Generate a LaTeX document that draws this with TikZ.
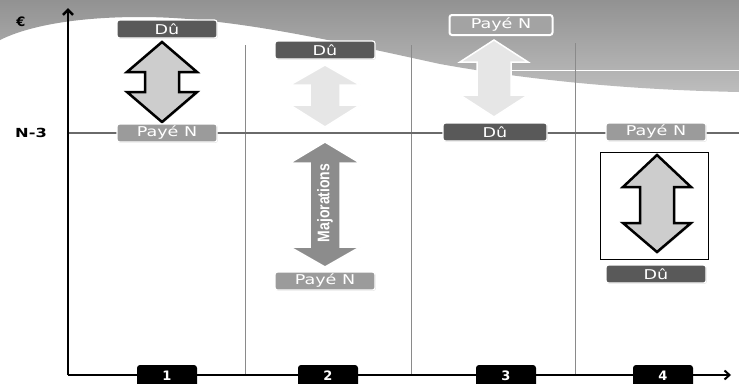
\documentclass[tikz,border=0pt]{standalone}
\usepackage{fontspec}
\setmainfont{DejaVu Sans}
\newfontfamily\majfont{Liberation Sans}
\usetikzlibrary{arrows.meta,shadows}
\definecolor{wavetop}{HTML}{929292}
\definecolor{wavebot}{HTML}{BDBDBD}
\definecolor{dk}{HTML}{595959}
\definecolor{md}{HTML}{9B9B9B}
\definecolor{tp}{HTML}{A3A3A3}
\definecolor{gridc}{HTML}{8A8A8A}
\definecolor{nline}{HTML}{6A6A6A}
\definecolor{arrfill}{HTML}{CDCDCD}
\definecolor{lightarr}{HTML}{E6E6E6}
\definecolor{majarr}{HTML}{8C8C8C}
\newcommand{\wtxt}[1]{\scalebox{1.3}[1]{#1}}
% #1 style, #2 cx, #3 top tip, #4 top head base, #5 bottom head base, #6 bottom tip, #7 half head, #8 half shaft
\newcommand{\dblarr}[8]{%
  \path[#1] (#2,#3) -- ({#2-#7},#4) -- ({#2-#8},#4) -- ({#2-#8},#5) -- ({#2-#7},#5)
    -- (#2,#6) -- ({#2+#7},#5) -- ({#2+#8},#5) -- ({#2+#8},#4) -- ({#2+#7},#4) -- cycle;}
\begin{document}
\begin{tikzpicture}[x=1pt,y=-1pt,
  lab/.style={rounded corners=2.5pt, draw=white, line width=1.2pt, minimum width=100pt,
    minimum height=18pt, inner sep=0pt, text=white, font=\fontsize{13.5}{15}\selectfont,
    drop shadow={opacity=0.25,shadow xshift=0.8pt,shadow yshift=-0.8pt}},
  darklab/.style={lab, fill=dk},
  medlab/.style={lab, fill=md},
  numbox/.style={fill=black, rounded corners=3pt, minimum width=60pt, minimum height=22pt,
    inner sep=0pt, text=white, font=\bfseries\fontsize{13}{15}\selectfont},
  gridline/.style={draw=gridc, line width=0.9pt},
  blackarr/.style={fill=arrfill, draw=black, line width=2.5pt, line join=miter,
    drop shadow={opacity=0.3,shadow xshift=1.2pt,shadow yshift=-1.2pt}},
  lightarr/.style={fill=lightarr, draw=white, line width=1.5pt, line join=miter},
  majarrow/.style={fill=majarr, draw=white, line width=1.5pt, line join=miter},
  axis/.style={draw=black, line width=2.6pt}
]
\clip (0,0) rectangle (739,383);
\fill[white] (0,0) rectangle (739,383);
% gray wave
\shade[top color=wavetop, bottom color=wavebot]
  (0,0) -- (0,40) .. controls (30,25) and (80,17) .. (140,17)
  .. controls (230,17) and (330,40) .. (440,64)
  .. controls (540,82) and (640,90) .. (739,92) -- (739,0) -- cycle;
\draw[white, line width=0.8pt] (505,70) -- (739,70);
% grid lines
\draw[gridline] (245,45) -- (245,375);
\draw[gridline] (411,45) -- (411,375);
\draw[gridline] (575,43) -- (575,375);
% N-3 line
\coordinate (n3l) at (68,133);
\coordinate (n3r) at (739,133);
\draw[nline, line width=2.2pt] (n3l) -- (n3r);
% axes
\coordinate (O) at (68,375);
\coordinate (ytop) at (68,8);
\coordinate (xend) at (731,375);
\draw[axis, line width=2pt, -{Straight Barb[length=5pt,width=9pt]}] (O) -- (xend);
\draw[axis, -{Straight Barb[length=5pt,width=10pt]}] (O) -- (ytop);
\node[font=\bfseries\fontsize{13}{15}\selectfont] (euro) at (21,22) {€};
\node[font=\bfseries\fontsize{12.5}{14}\selectfont] (n3) at (31,133) {\wtxt{N-3}};
% number boxes
\node[numbox] (b1) at (167,376) {1};
\node[numbox] (b2) at (328,376) {2};
\node[numbox] (b3) at (506,376) {3};
\node[numbox] (b4) at (663,376) {4};
% column 4 frame
\node[draw=black, line width=1pt, fill=white, minimum width=108pt, minimum height=107pt, inner sep=0pt] (frame) at (654,205.5) {};
% arrows
\dblarr{blackarr}{162}{42}{72}{92}{122}{35}{17}
\dblarr{lightarr}{325}{65}{85}{105}{127}{35}{15}
\dblarr{majarrow}{325}{142}{163}{247}{267}{35}{15}
\dblarr{lightarr}{494}{40}{62}{95}{117}{34}{17}
\dblarr{blackarr}{657}{155}{187}{223}{252}{34}{17}
\node[rotate=90, text=white, font=\majfont\bfseries\fontsize{14}{16}\selectfont] (maj) at (325,203) {\scalebox{1}[1.2]{Majorations}};
% labels
\node[darklab] (du1) at (167,29) {\wtxt{Dû}};
\node[medlab] (pa1) at (167,133) {\wtxt{Payé N}};
\node[darklab] (du2) at (325,50) {\wtxt{Dû}};
\node[medlab] (pa2) at (325,281) {\wtxt{Payé N}};
\node[lab, fill=tp, line width=2pt, minimum width=103pt, minimum height=20pt] (pa3) at (501,25) {\wtxt{Payé N}};
\node[darklab, minimum width=104pt] (du3) at (495,132) {\wtxt{Dû}};
\node[medlab] (pa4) at (656,132) {\wtxt{Payé N}};
\node[darklab] (du4) at (656,274) {\wtxt{Dû}};
\end{tikzpicture}
\end{document}
